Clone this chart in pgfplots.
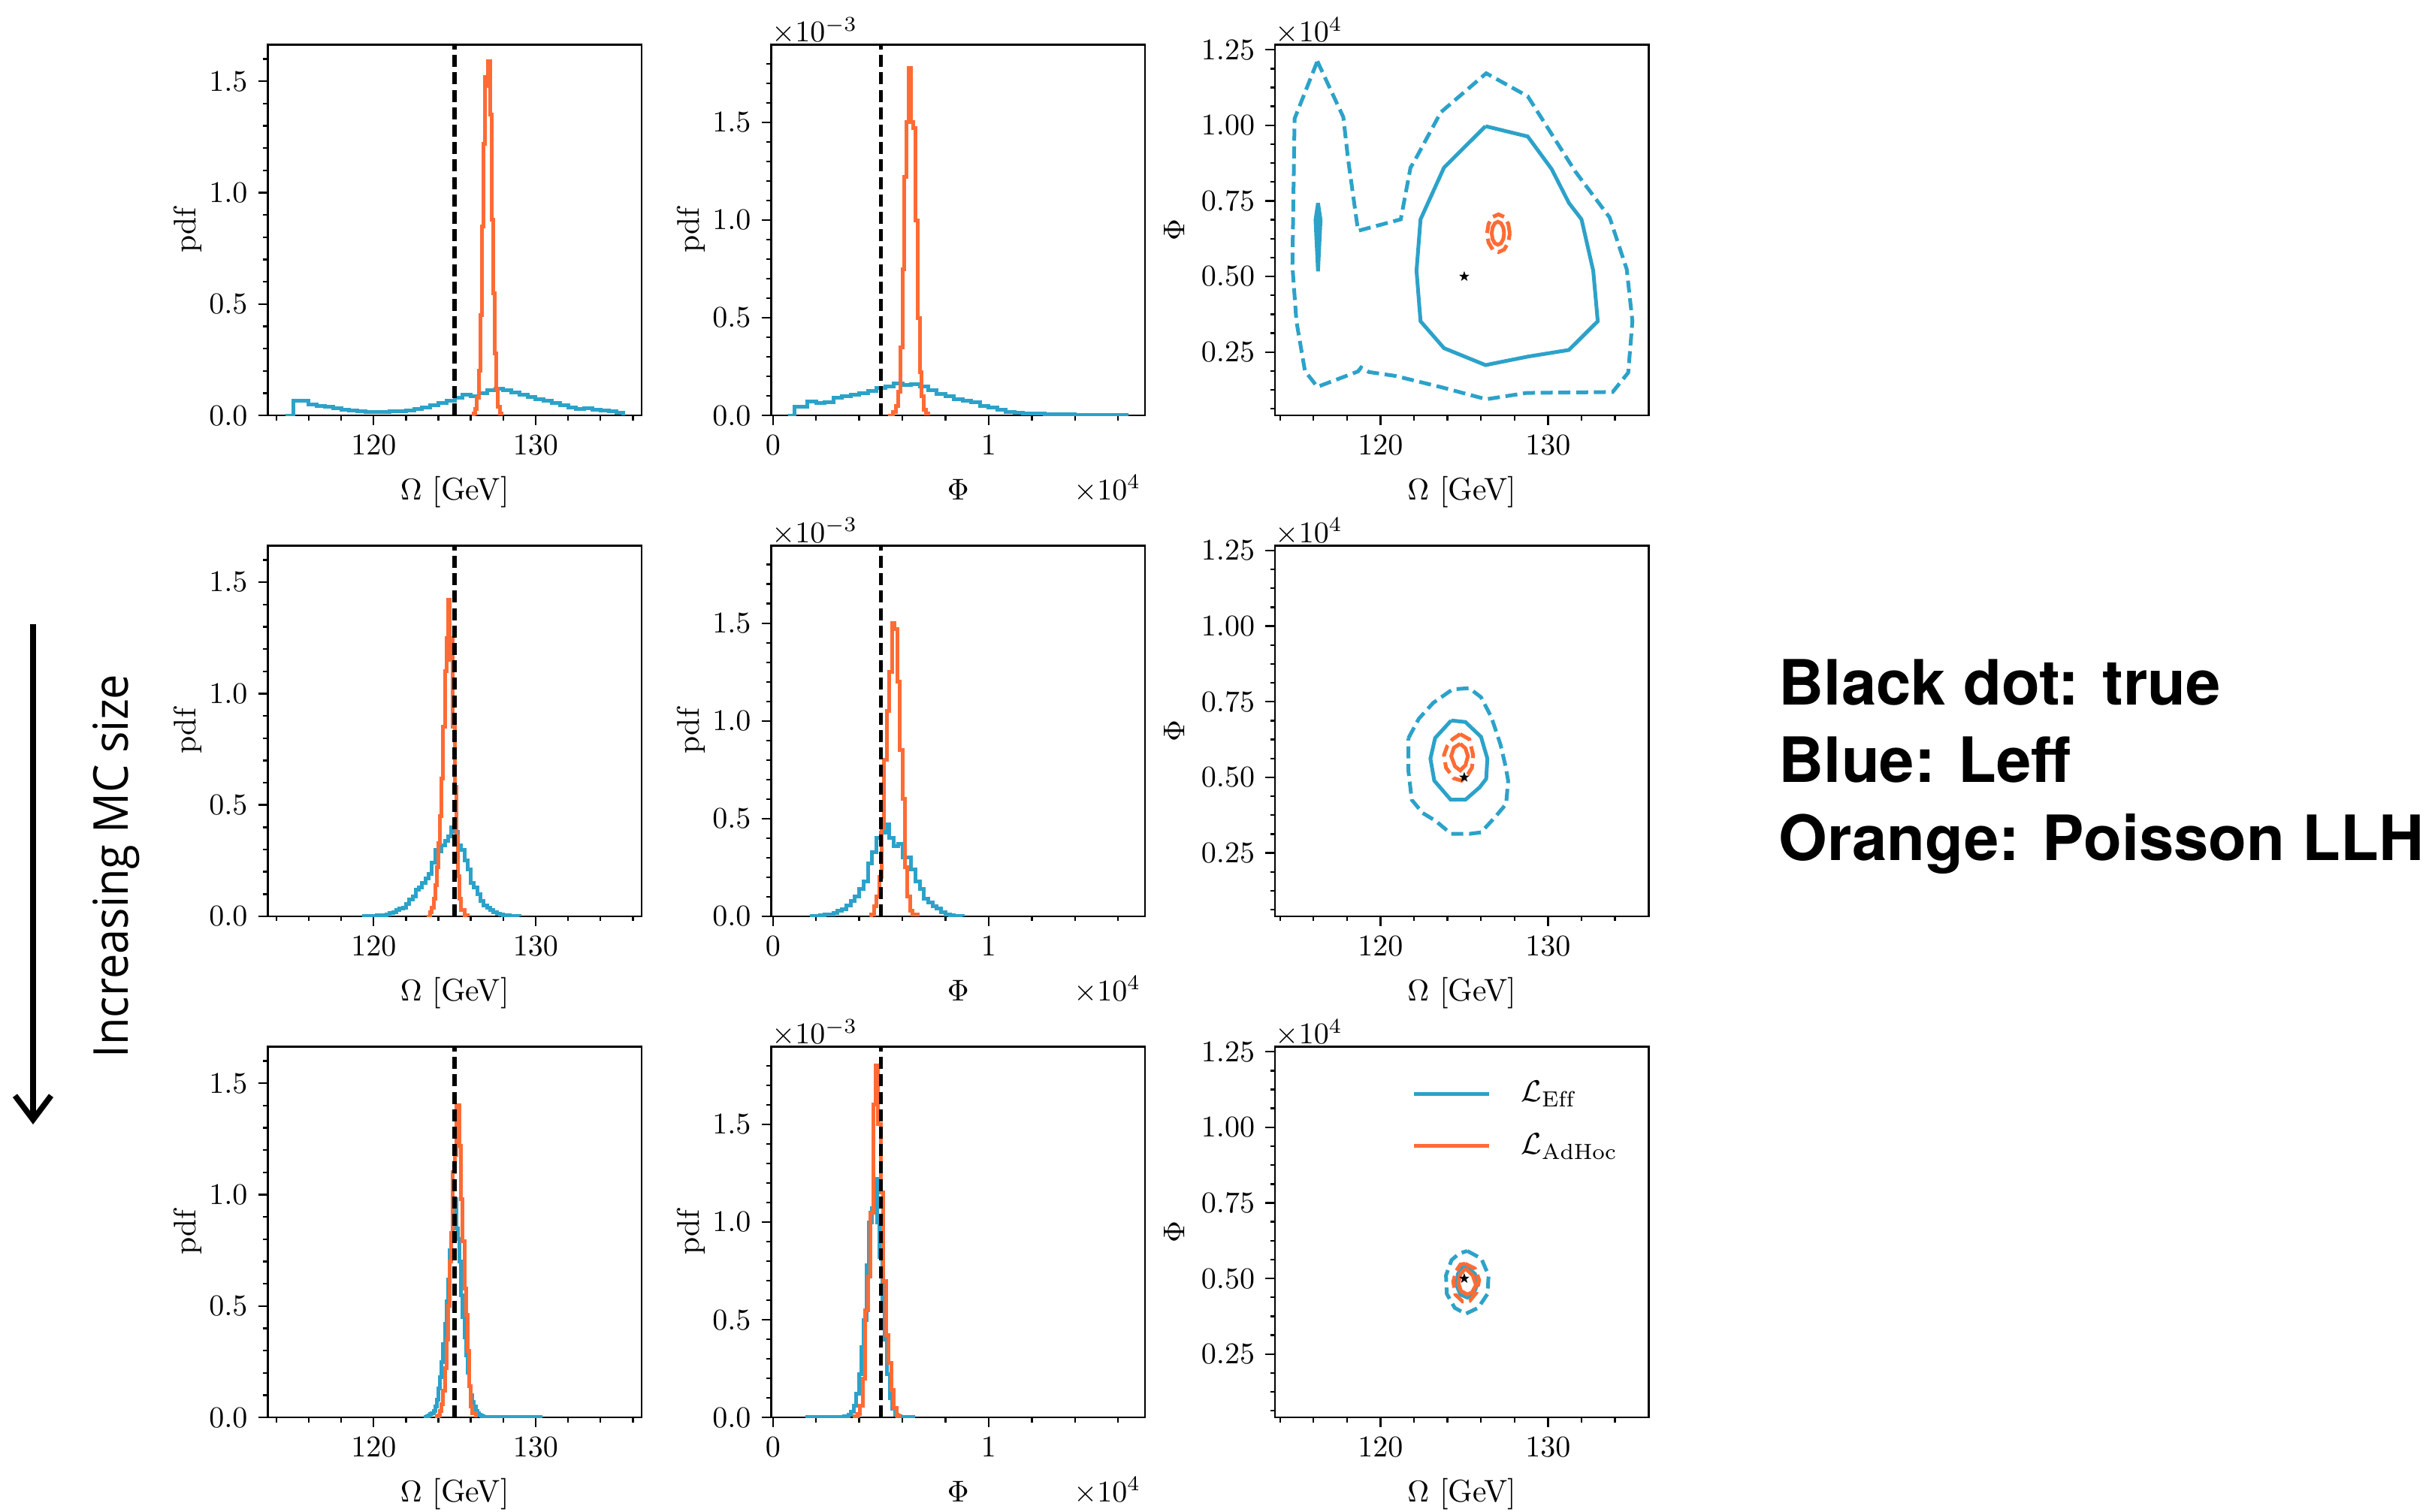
\documentclass[border=0pt]{standalone}
\usepackage{pgfplots}
\pgfplotsset{compat=1.18}
\usepackage{fontspec}
\newfontfamily\headfont{TeX Gyre Heros}
\newfontfamily\sidefont{Open Sans}
\usetikzlibrary{arrows.meta}
\definecolor{cblue}{RGB}{44,162,201}
\definecolor{corange}{RGB}{255,107,53}

\pgfdeclareplotmark{fstar}{%
  \pgfpathmoveto{\pgfpointpolar{90}{\pgfplotmarksize}}%
  \pgfpathlineto{\pgfpointpolar{126}{0.4\pgfplotmarksize}}%
  \pgfpathlineto{\pgfpointpolar{162}{\pgfplotmarksize}}%
  \pgfpathlineto{\pgfpointpolar{198}{0.4\pgfplotmarksize}}%
  \pgfpathlineto{\pgfpointpolar{234}{\pgfplotmarksize}}%
  \pgfpathlineto{\pgfpointpolar{270}{0.4\pgfplotmarksize}}%
  \pgfpathlineto{\pgfpointpolar{306}{\pgfplotmarksize}}%
  \pgfpathlineto{\pgfpointpolar{342}{0.4\pgfplotmarksize}}%
  \pgfpathlineto{\pgfpointpolar{18}{\pgfplotmarksize}}%
  \pgfpathlineto{\pgfpointpolar{54}{0.4\pgfplotmarksize}}%
  \pgfpathclose
  \pgfusepathqfill
}

\newcommand{\fs}{\fontsize{10.4}{12}\selectfont}

\pgfplotsset{
  every axis/.append style={
    scale only axis, width=124.4pt, height=123.4pt, anchor=north west,
    clip mode=individual,
    axis line style={line width=0.6pt},
    tick style={line width=0.6pt, black},
    tick align=outside, xtick pos=left, ytick pos=left,
    major tick length=3.2pt, minor tick length=1.6pt,
    tick label style={font=\fs},
    label style={font=\fs},
  },
  every axis y label/.style={at={(axis description cs:-0.214,0.5)}, rotate=90, anchor=center},
  every axis x label/.style={at={(axis description cs:0.5,-0.227)}, anchor=base},
  hist/.style={const plot, line width=1.25pt, mark=none},
  truel/.style={black, line width=1.3pt, dash pattern=on 4pt off 1.8pt},
  cdash/.style={line width=1.25pt, dash pattern=on 4pt off 1.9pt, forget plot},
  csol/.style={line width=1.25pt, forget plot},
  colOmega/.style={xmin=113.47, xmax=136.54, xtick={120,130}, xticklabels={$120$,$130$},
    minor xtick={114,116,118,122,124,126,128,132,134,136},
    ymin=0, ymax=1.664, ytick={0,0.5,1,1.5}, yticklabels={$0.0$,$0.5$,$1.0$,$1.5$},
    minor ytick={0.1,0.2,0.3,0.4,0.6,0.7,0.8,0.9,1.1,1.2,1.3,1.4,1.6},
    xlabel={$\Omega$ [GeV]}, ylabel={pdf}},
  colPhi/.style={xmin=-0.0084, xmax=1.725, xtick={0,1}, xticklabels={$0$,$1$},
    minor xtick={0.2,0.4,0.6,0.8,1.2,1.4,1.6},
    ymin=0, ymax=1.897, ytick={0,0.5,1,1.5}, yticklabels={$0.0$,$0.5$,$1.0$,$1.5$},
    minor ytick={0.1,0.2,0.3,0.4,0.6,0.7,0.8,0.9,1.1,1.2,1.3,1.4,1.6,1.7,1.8},
    xlabel={$\Phi$}, ylabel={pdf}},
  colCont/.style={xmin=113.7, xmax=136.02, xtick={120,130}, xticklabels={$120$,$130$},
    minor xtick={114,116,118,122,124,126,128,132,134},
    ymin=0.0402, ymax=1.2663, ytick={0.25,0.5,0.75,1,1.25},
    yticklabels={$0.25$,$0.50$,$0.75$,$1.00$,$1.25$},
    minor ytick={0.0625,0.125,0.1875,0.3125,0.375,0.4375,0.5625,0.625,0.6875,0.8125,0.875,0.9375,1.0625,1.125,1.1875},
    xlabel={$\Omega$ [GeV]}, ylabel={$\Phi$},
    ylabel style={at={(axis description cs:-0.27,0.5)}}},
}

\begin{document}
\begin{tikzpicture}
\useasboundingbox (0,0) rectangle (809.25pt,-503.25pt);

% ================= ROW 1 =================
\begin{axis}[at={(89.1pt,-14.9pt)}, colOmega]
\addplot[hist, cblue] coordinates {(114.55,0) (115.05,0.065) (115.5,0.068) (116.0,0.05) (116.5,0.042) (117.0,0.038) (117.5,0.033) (118.0,0.027) (118.5,0.022) (119.0,0.018) (119.5,0.016) (120.0,0.016) (120.5,0.016) (121.0,0.018) (121.5,0.02) (122.0,0.024) (122.5,0.03) (123.0,0.036) (123.5,0.045) (124.0,0.055) (124.5,0.067) (125.0,0.08) (125.5,0.092) (126.0,0.088) (126.5,0.1) (127.0,0.113) (127.5,0.122) (128.0,0.114) (128.5,0.102) (129.0,0.094) (129.5,0.082) (130.0,0.072) (130.5,0.068) (131.0,0.056) (131.5,0.046) (132.0,0.036) (132.5,0.03) (133.0,0.032) (133.5,0.025) (134.0,0.024) (134.5,0.02) (135.0,0.012) (135.4,0)};
\addplot[hist, corange] coordinates {(126.08,0) (126.18,0.01) (126.28,0.03) (126.38,0.08) (126.48,0.2) (126.58,0.45) (126.68,0.85) (126.78,1.22) (126.88,1.52) (126.98,1.48) (127.08,1.59) (127.18,1.35) (127.28,0.88) (127.38,0.55) (127.48,0.28) (127.58,0.12) (127.68,0.04) (127.78,0.01) (127.88,0)};
\addplot[truel] coordinates {(125,0) (125,1.664)};
\end{axis}

\begin{axis}[at={(256.6pt,-14.9pt)}, colPhi]
\addplot[hist, cblue] coordinates {(0.07,0) (0.10,0.045) (0.16,0.07) (0.20,0.066) (0.24,0.068) (0.28,0.09) (0.32,0.1) (0.36,0.105) (0.40,0.115) (0.44,0.125) (0.48,0.14) (0.52,0.15) (0.56,0.165) (0.60,0.155) (0.64,0.162) (0.68,0.15) (0.72,0.13) (0.76,0.11) (0.80,0.1) (0.84,0.085) (0.88,0.075) (0.92,0.068) (0.96,0.05) (1.00,0.04) (1.04,0.03) (1.08,0.02) (1.12,0.016) (1.16,0.012) (1.20,0.01) (1.26,0.007) (1.32,0.005) (1.40,0.004) (1.48,0.003) (1.56,0.002) (1.64,0)};
\addplot[hist, corange] coordinates {(0.535,0) (0.555,0.02) (0.57,0.05) (0.58,0.12) (0.59,0.35) (0.60,0.75) (0.61,1.22) (0.62,1.5) (0.63,1.78) (0.64,1.5) (0.65,1.47) (0.66,1.0) (0.67,0.5) (0.68,0.22) (0.69,0.1) (0.70,0.03) (0.71,0.01) (0.72,0)};
\addplot[truel] coordinates {(0.5,0) (0.5,1.897)};
\node[anchor=base west, inner sep=0pt, font=\fs] at (axis description cs:0,1.008) {$\times10^{-3}$};
\node[anchor=base east, inner sep=0pt, font=\fs] at (axis description cs:0.99,-0.227) {$\times10^{4}$};
\end{axis}

\begin{axis}[at={(424.25pt,-14.9pt)}, colCont]
\addplot[cdash, cblue] coordinates {(116.23,1.212) (117.78,1.027) (118.06,0.89) (118.66,0.651) (121.21,0.689) (121.79,0.86) (122.01,0.88) (123.6,1.043) (126.31,1.172) (128.79,1.096) (131.62,0.848) (133.68,0.695) (134.7,0.524) (135.04,0.352) (134.79,0.182) (133.86,0.118) (128.73,0.115) (126.31,0.094) (123.69,0.133) (120.9,0.171) (119.31,0.184) (118.84,0.199) (118.66,0.186) (116.23,0.135) (115.49,0.187) (114.98,0.352) (114.74,0.535) (114.87,1.022) (116.23,1.212)};
\addplot[csol, cblue] coordinates {(126.27,0.997) (128.79,0.963) (130.22,0.855) (131.25,0.743) (132.0,0.689) (132.7,0.519) (132.97,0.352) (131.25,0.257) (128.79,0.235) (126.27,0.207) (123.79,0.263) (122.39,0.352) (122.15,0.519) (122.39,0.689) (123.79,0.86) (126.27,0.997)};
\addplot[csol, cblue, fill=cblue] coordinates {(116.27,0.743) (116.42,0.687) (116.27,0.517) (116.12,0.687) (116.27,0.743)};
\addplot[cdash, corange] coordinates {(127.72,0.643) (127.63,0.674) (127.38,0.697) (127.04,0.7055) (126.70,0.697) (126.45,0.674) (126.36,0.643) (126.45,0.612) (126.70,0.589) (127.04,0.5805) (127.38,0.589) (127.63,0.612) (127.72,0.643)};
\addplot[csol, corange] coordinates {(127.38,0.643) (127.33,0.662) (127.195,0.676) (127.01,0.681) (126.825,0.676) (126.69,0.662) (126.64,0.643) (126.69,0.624) (126.825,0.610) (127.01,0.605) (127.195,0.610) (127.33,0.624) (127.38,0.643)};
\addplot[only marks, mark=fstar, mark size=1.8pt, black, forget plot] coordinates {(125,0.5)};
\node[anchor=base west, inner sep=0pt, font=\fs] at (axis description cs:0,1.008) {$\times10^{4}$};
\end{axis}

% ================= ROW 2 =================
\begin{axis}[at={(89.1pt,-181.6pt)}, colOmega]
\addplot[hist, cblue] coordinates {(119.3,0) (119.4,0.002) (119.8,0.003) (120.2,0.004) (120.4,0.005) (120.6,0.006) (120.8,0.01) (121.0,0.014) (121.2,0.02) (121.4,0.028) (121.6,0.035) (121.8,0.04) (122.0,0.055) (122.2,0.075) (122.4,0.09) (122.6,0.12) (122.8,0.13) (123.0,0.15) (123.2,0.17) (123.4,0.19) (123.6,0.24) (123.8,0.3) (124.0,0.29) (124.2,0.32) (124.4,0.34) (124.6,0.36) (124.8,0.4) (125.0,0.38) (125.2,0.32) (125.4,0.3) (125.6,0.25) (125.8,0.21) (126.0,0.15) (126.2,0.13) (126.4,0.1) (126.6,0.07) (126.8,0.05) (127.0,0.04) (127.2,0.03) (127.4,0.02) (127.6,0.012) (127.8,0.008) (128.0,0.006) (128.2,0.004) (128.4,0.003) (128.6,0.002) (129.0,0)};
\addplot[hist, corange] coordinates {(123.3,0) (123.5,0.02) (123.6,0.04) (123.7,0.08) (123.8,0.14) (123.9,0.22) (124.0,0.33) (124.1,0.45) (124.2,0.62) (124.3,0.85) (124.4,1.1) (124.5,1.25) (124.6,1.42) (124.7,1.15) (124.8,1.25) (124.9,0.85) (125.0,0.58) (125.1,0.36) (125.2,0.18) (125.3,0.08) (125.4,0.03) (125.6,0.005) (125.8,0)};
\addplot[truel] coordinates {(125,0) (125,1.664)};
\end{axis}

\begin{axis}[at={(256.6pt,-181.6pt)}, colPhi]
\addplot[hist, cblue] coordinates {(0.17,0) (0.18,0.002) (0.20,0.003) (0.22,0.005) (0.24,0.008) (0.26,0.01) (0.28,0.018) (0.30,0.03) (0.32,0.035) (0.34,0.055) (0.36,0.08) (0.38,0.1) (0.40,0.14) (0.42,0.18) (0.44,0.27) (0.46,0.33) (0.48,0.4) (0.50,0.43) (0.52,0.47) (0.54,0.4) (0.56,0.36) (0.58,0.37) (0.60,0.3) (0.62,0.3) (0.64,0.24) (0.66,0.18) (0.68,0.14) (0.70,0.09) (0.72,0.07) (0.74,0.05) (0.76,0.04) (0.78,0.02) (0.80,0.01) (0.82,0.005) (0.84,0.003) (0.88,0)};
\addplot[hist, corange] coordinates {(0.45,0) (0.456,0.01) (0.468,0.05) (0.480,0.1) (0.492,0.2) (0.504,0.45) (0.516,0.8) (0.528,1.05) (0.540,1.25) (0.552,1.5) (0.564,1.47) (0.576,1.2) (0.588,0.85) (0.600,0.6) (0.612,0.25) (0.624,0.1) (0.636,0.03) (0.648,0.01) (0.672,0)};
\addplot[truel] coordinates {(0.5,0) (0.5,1.897)};
\node[anchor=base west, inner sep=0pt, font=\fs] at (axis description cs:0,1.008) {$\times10^{-3}$};
\node[anchor=base east, inner sep=0pt, font=\fs] at (axis description cs:0.99,-0.227) {$\times10^{4}$};
\end{axis}

\begin{axis}[at={(424.25pt,-181.6pt)}, colCont]
\addplot[cdash, cblue] coordinates {(121.67,0.630) (122.29,0.694) (123.14,0.746) (124.30,0.791) (125.30,0.795) (126.0,0.765) (126.62,0.699) (127.16,0.609) (127.47,0.536) (127.62,0.489) (127.5,0.412) (126.85,0.369) (126.0,0.318) (125.30,0.313) (124.22,0.313) (123.29,0.356) (122.52,0.382) (121.87,0.425) (121.67,0.519) (121.67,0.630)};
\addplot[csol, cblue] coordinates {(124.22,0.688) (125.07,0.683) (126.0,0.634) (126.38,0.562) (126.31,0.495) (125.92,0.467) (125.07,0.426) (124.19,0.426) (123.21,0.489) (122.98,0.562) (123.26,0.630) (124.22,0.688)};
\addplot[cdash, corange] coordinates {(124.76,0.643) (125.30,0.626) (125.53,0.574) (125.46,0.532) (125.22,0.510) (124.84,0.489) (124.37,0.497) (123.91,0.532) (123.79,0.574) (123.99,0.604) (124.30,0.626) (124.76,0.643)};
\addplot[csol, corange] coordinates {(124.76,0.611) (125.07,0.596) (125.22,0.570) (125.07,0.540) (124.76,0.523) (124.45,0.536) (124.22,0.570) (124.38,0.598) (124.76,0.611)};
\addplot[only marks, mark=fstar, mark size=1.8pt, black, forget plot] coordinates {(125,0.5)};
\node[anchor=base west, inner sep=0pt, font=\fs] at (axis description cs:0,1.008) {$\times10^{4}$};
\end{axis}

% ================= ROW 3 =================
\begin{axis}[at={(89.1pt,-348.4pt)}, colOmega]
\addplot[hist, cblue] coordinates {(123.1,0) (123.2,0.003) (123.3,0.006) (123.4,0.01) (123.5,0.015) (123.6,0.02) (123.7,0.03) (123.8,0.05) (123.9,0.08) (124.0,0.13) (124.1,0.18) (124.2,0.25) (124.3,0.33) (124.4,0.42) (124.5,0.52) (124.6,0.62) (124.7,0.75) (124.8,0.8) (124.9,0.9) (125.0,0.98) (125.1,0.85) (125.2,0.8) (125.3,0.7) (125.4,0.55) (125.5,0.45) (125.6,0.36) (125.7,0.28) (125.8,0.2) (125.9,0.14) (126.0,0.1) (126.1,0.07) (126.2,0.05) (126.3,0.03) (126.4,0.02) (126.5,0.012) (126.6,0.008) (126.7,0.005) (126.8,0.004) (126.9,0.003) (127.0,0.002) (128.0,0.002) (129.0,0.001) (130.3,0)};
\addplot[hist, corange] coordinates {(123.8,0) (123.9,0.005) (124.0,0.01) (124.1,0.03) (124.2,0.06) (124.3,0.12) (124.4,0.22) (124.5,0.35) (124.6,0.5) (124.7,0.7) (124.8,0.83) (124.9,1.1) (125.0,1.18) (125.1,1.4) (125.2,1.4) (125.3,1.22) (125.4,0.98) (125.5,0.79) (125.6,0.58) (125.7,0.46) (125.8,0.3) (125.9,0.14) (126.0,0.05) (126.1,0.02) (126.3,0)};
\addplot[truel] coordinates {(125,0) (125,1.664)};
\end{axis}

\begin{axis}[at={(256.6pt,-348.4pt)}, colPhi]
\addplot[hist, cblue] coordinates {(0.15,0) (0.16,0.004) (0.18,0.002) (0.22,0.002) (0.26,0.002) (0.30,0.003) (0.33,0.008) (0.35,0.015) (0.362,0.03) (0.374,0.06) (0.386,0.12) (0.398,0.22) (0.410,0.36) (0.422,0.5) (0.434,0.78) (0.446,1.0) (0.458,1.07) (0.470,1.22) (0.482,1.0) (0.494,0.82) (0.506,0.58) (0.518,0.4) (0.530,0.22) (0.542,0.1) (0.554,0.045) (0.566,0.015) (0.578,0.006) (0.590,0.002) (0.65,0)};
\addplot[hist, corange] coordinates {(0.37,0) (0.380,0.005) (0.392,0.02) (0.404,0.06) (0.416,0.2) (0.428,0.55) (0.440,0.72) (0.452,1.05) (0.464,1.6) (0.476,1.8) (0.488,1.5) (0.500,1.15) (0.512,0.7) (0.524,0.42) (0.536,0.28) (0.548,0.14) (0.560,0.05) (0.572,0.01) (0.584,0)};
\addplot[truel] coordinates {(0.5,0) (0.5,1.897)};
\node[anchor=base west, inner sep=0pt, font=\fs] at (axis description cs:0,1.008) {$\times10^{-3}$};
\node[anchor=base east, inner sep=0pt, font=\fs] at (axis description cs:0.99,-0.227) {$\times10^{4}$};
\end{axis}

\begin{axis}[at={(424.25pt,-348.4pt)}, colCont,
  legend style={at={(axis description cs:0.365,0.925)}, anchor=north west, draw=none, fill=none, font=\fs, row sep=5pt, inner sep=0pt,
    /tikz/every odd column/.append style={column sep=8pt}},
  legend cell align=left,
  legend image code/.code={\draw[#1] (0pt,0pt) -- (25pt,0pt);}]
\addlegendimage{cblue, line width=1.25pt}
\addlegendentry{$\mathcal{L}_{\mathrm{Eff}}$}
\addlegendimage{corange, line width=1.25pt}
\addlegendentry{$\mathcal{L}_{\mathrm{AdHoc}}$}
\addplot[cdash, cblue] coordinates {(125.18,0.591) (126.02,0.566) (126.45,0.51) (126.39,0.449) (125.83,0.403) (125.08,0.383) (124.43,0.403) (123.96,0.449) (123.91,0.51) (124.24,0.561) (124.71,0.583) (125.18,0.591)};
\addplot[csol, cblue] coordinates {(125.14,0.539) (125.64,0.515) (125.78,0.48) (125.55,0.449) (125.18,0.437) (124.77,0.447) (124.52,0.48) (124.62,0.515) (124.86,0.536) (125.14,0.539)};
\addplot[cdash, corange] coordinates {(125.05,0.549) (125.64,0.533) (125.89,0.495) (125.74,0.454) (125.33,0.426) (124.90,0.424) (124.47,0.447) (124.34,0.49) (124.52,0.525) (124.77,0.546) (125.05,0.549)};
\addplot[csol, corange] coordinates {(125.08,0.533) (125.51,0.51) (125.70,0.478) (125.46,0.454) (125.18,0.447) (124.80,0.459) (124.65,0.485) (124.77,0.515) (125.08,0.533)};
\addplot[only marks, mark=fstar, mark size=1.8pt, black, forget plot] coordinates {(125,0.5)};
\node[anchor=base west, inner sep=0pt, font=\fs] at (axis description cs:0,1.008) {$\times10^{4}$};
\end{axis}

% ================= annotations =================
\draw[line width=1.9pt, -{Straight Barb[length=8pt,width=12pt]}] (11pt,-207.75pt) -- (11pt,-374.25pt);
\node[rotate=90, inner sep=0pt, font=\sidefont\fontsize{16}{18}\selectfont] at (38.75pt,-288.25pt) {\scalebox{0.93}[1]{Increasing MC size}};

\node[anchor=base west, inner sep=0pt, font=\headfont\bfseries\fontsize{20.8}{25}\selectfont] at (591.75pt,-234.5pt) {Black dot: true};
\node[anchor=base west, inner sep=0pt, font=\headfont\bfseries\fontsize{20.8}{25}\selectfont] at (591.75pt,-260.25pt) {Blue: Leff};
\node[anchor=base west, inner sep=0pt, font=\headfont\bfseries\fontsize{20.8}{25}\selectfont] at (591.75pt,-286.25pt) {Orange: Poisson LLH};
\end{tikzpicture}
\end{document}
